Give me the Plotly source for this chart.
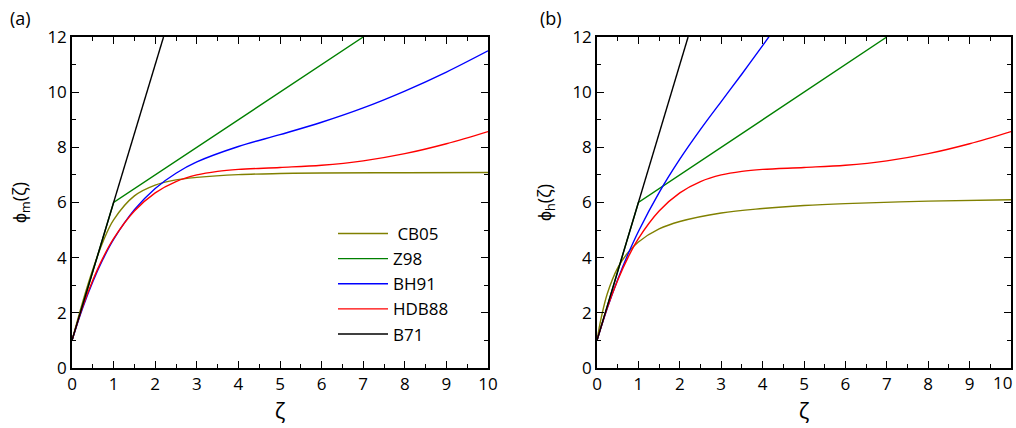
import plotly.graph_objects as go

# ---- data ----
# Panel (a): phi_m
zeta_cb05_m = [0, 0.25, 0.5, 0.75, 1, 1.5, 2, 2.5, 3, 4, 5, 6, 8, 10]
cb05_m = [1.0, 2.36, 3.57, 4.60, 5.37, 6.24, 6.63, 6.82, 6.91, 7.01, 7.05, 7.07, 7.08, 7.09]

zeta_z98 = [0, 1, 7.0]
z98 = [1.0, 6.0, 12.0]

zeta_bh91_m = [0, 0.25, 0.5, 0.75, 1, 1.5, 2, 2.5, 3, 4, 5, 6, 7, 8, 9, 10]
bh91_m = [1.0, 2.15, 3.13, 3.96, 4.66, 5.74, 6.51, 7.06, 7.47, 8.03, 8.46, 8.91, 9.43, 10.04, 10.73, 11.50]

zeta_hdb88 = [0, 0.25, 0.5, 0.75, 1, 1.5, 2, 2.5, 3, 3.5, 4, 5, 6, 7, 8, 9, 10]
hdb88 = [1.0, 2.19, 3.18, 4.01, 4.69, 5.69, 6.35, 6.76, 7.00, 7.13, 7.20, 7.27, 7.35, 7.51, 7.77, 8.13, 8.57]

zeta_b71 = [0, 2.2]
b71 = [1.0, 12.0]

# Panel (b): phi_h
zeta_cb05_h = [0, 0.05, 0.1, 0.25, 0.5, 0.75, 1, 1.5, 2, 3, 4, 5, 6, 8, 10]
cb05_h = [1.0, 1.43, 1.81, 2.70, 3.63, 4.19, 4.57, 5.04, 5.31, 5.62, 5.78, 5.89, 5.96, 6.05, 6.10]

zeta_bh91_h = [0, 0.25, 0.5, 0.75, 1, 1.5, 2, 2.5, 3, 3.5, 4, 4.25]
bh91_h = [1.0, 2.17, 3.21, 4.13, 4.95, 6.36, 7.57, 8.65, 9.66, 10.66, 11.69, 12.21]

x_ticks = [0, 1, 2, 3, 4, 5, 6, 7, 8, 9, 10]
y_ticks = [0, 2, 4, 6, 8, 10, 12]

names = ["CB05", "Z98", "BH91", "HDB88", "B71"]
legend_labels = [" CB05", "Z98", "BH91", "HDB88", "B71"]
colors = {"CB05": "#808000", "Z98": "#008000", "BH91": "#0000ff", "HDB88": "#ff0000", "B71": "#000000"}

panel_a = {
    "CB05": (zeta_cb05_m, cb05_m, "spline"),
    "Z98": (zeta_z98, z98, "linear"),
    "BH91": (zeta_bh91_m, bh91_m, "spline"),
    "HDB88": (zeta_hdb88, hdb88, "spline"),
    "B71": (zeta_b71, b71, "linear"),
}
panel_b = {
    "CB05": (zeta_cb05_h, cb05_h, "spline"),
    "Z98": (zeta_z98, z98, "linear"),
    "BH91": (zeta_bh91_h, bh91_h, "spline"),
    "HDB88": (zeta_hdb88, hdb88, "spline"),
    "B71": (zeta_b71, b71, "linear"),
}

fig = go.Figure()
for n, lab in zip(names, legend_labels):
    x, y, shp = panel_a[n]
    fig.add_trace(go.Scatter(x=x, y=y, mode="lines", name=lab,
                             line=dict(color=colors[n], width=1.4, shape=shp),
                             xaxis="x", yaxis="y", showlegend=True))
for n in names:
    x, y, shp = panel_b[n]
    fig.add_trace(go.Scatter(x=x, y=y, mode="lines", name=n,
                             line=dict(color=colors[n], width=1.4, shape=shp),
                             xaxis="x2", yaxis="y2", showlegend=False))

W, H = 1016, 428
ytop, ybot = 37, 368
fam = "Open Sans, Liberation Sans, sans-serif"
font = dict(family=fam, size=17, color="black")

def xax(domain, anchor, ticktext):
    return dict(domain=domain, anchor=anchor, range=[0, 10],
                tickmode="array", tickvals=x_ticks, ticktext=ticktext,
                automargin=False,
                showline=True, linecolor="black", linewidth=1.5, mirror="ticks",
                ticks="inside", ticklen=7, tickwidth=1.3, tickcolor="black",
                minor=dict(ticks="inside", ticklen=4, dtick=0.5, tick0=0, tickcolor="black", tickwidth=1.2),
                showgrid=False, zeroline=False, tickfont=font,
                title=dict(text="ζ", font=dict(family=fam, size=22, color="black"), standoff=8))

def yax(domain, anchor, title):
    return dict(domain=domain, anchor=anchor, range=[0, 12],
                tickmode="array", tickvals=y_ticks, ticktext=[str(v) for v in y_ticks],
                automargin=False,
                showline=True, linecolor="black", linewidth=1.5, mirror="ticks",
                ticks="inside", ticklen=7, tickwidth=1.3, tickcolor="black",
                minor=dict(ticks="inside", ticklen=4, dtick=1, tick0=0, tickcolor="black", tickwidth=1.2),
                showgrid=False, zeroline=False, tickfont=font,
                title=dict(text=title, font=dict(family=fam, size=18, color="black"), standoff=16))

ydom = [1 - ybot / H, 1 - ytop / H]
labels_a = [str(v) for v in x_ticks]
labels_b = [str(v) for v in x_ticks[:-1]] + [""]   # last label drawn as annotation at the page edge

fig.update_layout(
    width=W, height=H,
    margin=dict(l=0, r=0, t=0, b=0),
    paper_bgcolor="white", plot_bgcolor="white",
    font=font,
    xaxis=xax([72 / W, 488 / W], "y", labels_a),
    yaxis=yax(ydom, "x", "ϕ<sub>m</sub>(ζ)"),
    xaxis2=xax([597 / W, 1011 / W], "y2", labels_b),
    yaxis2=yax(ydom, "x2", "ϕ<sub>h</sub>(ζ)"),
    legend=dict(x=333 / W, y=1 - 216 / H, xanchor="left", yanchor="top",
                bgcolor="rgba(0,0,0,0)", font=dict(family=fam, size=17, color="black"),
                tracegroupgap=0, itemwidth=50),
    annotations=[
        dict(text="(a)", x=8 / W, y=1 - 18 / H, xref="paper", yref="paper",
             xanchor="left", yanchor="middle", showarrow=False, font=dict(size=18, family=fam)),
        dict(text="(b)", x=538 / W, y=1 - 18 / H, xref="paper", yref="paper",
             xanchor="left", yanchor="middle", showarrow=False, font=dict(size=18, family=fam)),
        dict(text=str(x_ticks[-1]), x=1014 / W, xref="paper", y=1 - 382 / H, yref="paper",
             xanchor="right", yanchor="middle", showarrow=False, font=font),
    ],
)

fig.write_html("out.html")
